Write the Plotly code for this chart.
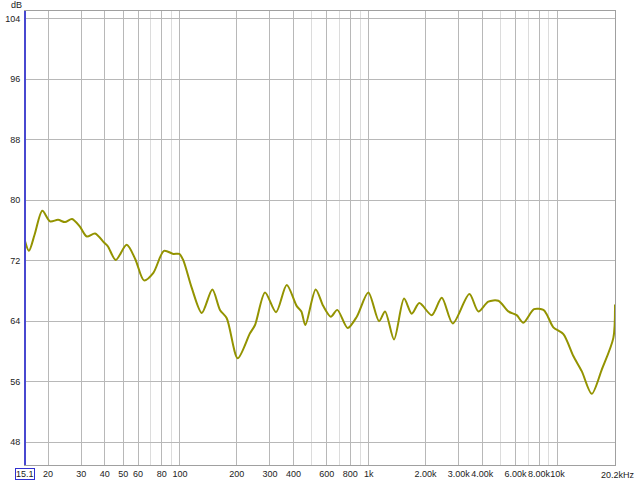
import math
import plotly.graph_objects as go

# Frequency response (Hz, dB)
freq_hz = [15.1, 15.85, 17.0, 18.65, 20.5, 22.6, 24.6, 26.8, 29.5, 32.1, 35.5, 39.6, 41.5,
           45.7, 52.2, 58.0, 64.5, 72.3, 82.3, 92.2, 99.2, 104, 115.5, 130.5, 148.5, 163,
           177, 202.4, 235, 250, 282.4, 323, 368, 416, 440, 461.8, 524, 575, 630, 682,
           774, 865, 996, 1135, 1222, 1363, 1540, 1692, 1856, 2160, 2440, 2790, 3417,
           3813, 4305, 4866, 5495, 6085, 6603, 7522, 8434, 8790, 9520, 10760, 12150,
           13460, 15210, 17190, 19800, 20200]
spl_db = [74.6, 73.3, 75.5, 78.6, 77.2, 77.4, 77.1, 77.5, 76.5, 75.2, 75.6, 74.4, 73.9,
          72.1, 74.1, 72.2, 69.4, 70.4, 73.3, 72.9, 72.9, 72.1, 68.4, 65.1, 68.2, 65.5,
          64.4, 59.1, 62.4, 63.5, 67.8, 65.2, 68.8, 66.0, 65.3, 63.5, 68.2, 66.0, 64.6, 65.5,
          63.1, 64.6, 67.8, 64.0, 65.3, 61.6, 67.0, 65.0, 66.4, 64.8, 67.1, 63.7, 67.6,
          65.3, 66.6, 66.7, 65.3, 64.8, 63.8, 65.6, 65.5, 64.9, 63.2, 62.3, 59.4,
          57.4, 54.4, 57.6, 61.8, 66.2]

x_major = [20, 30, 40, 50, 60, 80, 100, 200, 300, 400, 600, 800, 1000,
           2000, 3000, 4000, 6000, 8000, 10000]
x_major_text = ["20", "30", "40", "50", "60", "80", "100", "200", "300", "400", "600",
                "800", "1k", "2.00k", "3.00k", "4.00k", "6.00k", "8.00k", "10k"]
x_minor = [70, 90, 500, 700, 900, 5000, 7000, 9000, 20000]
y_ticks = [48, 56, 64, 72, 80, 88, 96, 104]

x_min, x_max = 15.1, 20200
y_min, y_max = 45, 105

font = dict(family="Liberation Sans, Arial, sans-serif", size=9, color="#222222")

fig = go.Figure()
fig.add_trace(go.Scatter(
    x=freq_hz, y=spl_db, mode="lines",
    line=dict(color="#939300", width=2, shape="spline", smoothing=0.8),
    hoverinfo="skip", showlegend=False))

fig.update_layout(
    width=640, height=480,
    margin=dict(l=25, r=25, t=11, b=15, autoexpand=False),
    paper_bgcolor="white", plot_bgcolor="white",
    font=font,
    showlegend=False,
    xaxis=dict(
        type="log", range=[math.log10(x_min), math.log10(x_max)],
        tickvals=x_major, ticktext=x_major_text, ticks="", tickangle=0,
        showgrid=True, gridcolor="#b8b8b8", gridwidth=1,
        minor=dict(tickvals=x_minor, showgrid=True, gridcolor="#dcdcdc", ticks=""),
        showline=True, linecolor="#a0a0a0", linewidth=1, mirror=True,
        zeroline=False, tickfont=font, ticklabelstandoff=0, automargin=False,
    ),
    yaxis=dict(
        range=[y_min, y_max], tickvals=y_ticks, ticks="",
        showgrid=True, gridcolor="#b8b8b8", gridwidth=1,
        showline=True, linecolor="#a0a0a0", linewidth=1, mirror=True,
        zeroline=False, tickfont=font, ticklabelstandoff=2, automargin=False,
    ),
)

# blue left axis line
fig.add_shape(type="line", xref="paper", yref="paper", x0=0, x1=0, y0=0, y1=1,
              line=dict(color="#4848d0", width=2))

fig.add_annotation(text="dB", xref="paper", yref="paper", x=0, y=1, xanchor="right",
                   yanchor="bottom", yshift=-1, xshift=-1, showarrow=False, font=font)
fig.add_annotation(text="15.1", xref="paper", yref="paper", x=0, y=0, xanchor="center",
                   yanchor="top", yshift=-3, showarrow=False, font=font,
                   bordercolor="#3030d0", borderwidth=1, borderpad=0, bgcolor="white")
fig.add_annotation(text="20.2kHz", xref="paper", yref="paper", x=1, y=0, xanchor="center",
                   yanchor="top", yshift=-3, xshift=3, showarrow=False, font=font)

fig.write_html("out.html", config={"displayModeBar": False},
               post_script="document.body.style.margin='0';")
